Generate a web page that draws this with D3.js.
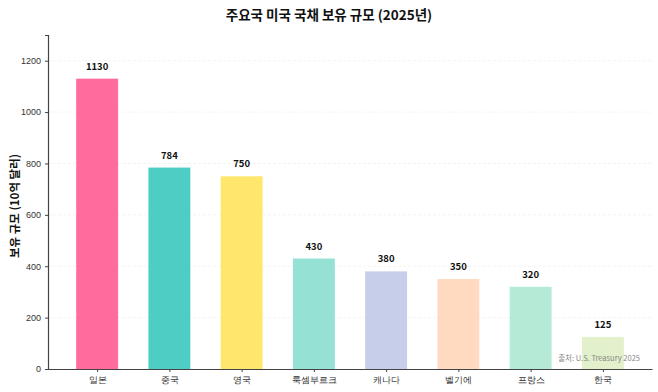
<!DOCTYPE html>
<html>
<head>
<meta charset="utf-8">
<script src="https://cdn.jsdelivr.net/npm/d3@7"></script>
<style>
  html, body { margin: 0; padding: 0; background: #fff; }
  svg { display: block; font-family: "Noto Sans CJK KR", "Noto Sans", sans-serif; }
</style>
</head>
<body>
<svg width="658" height="392"></svg>
<script>
var countries = ['일본', '중국', '영국', '룩셈부르크', '캐나다', '벨기에', '프랑스', '한국']
var holdings = [1130, 784, 750, 430, 380, 350, 320, 125]
var colors = ['#FF6B9D', '#4ECDC4', '#FFE66D', '#95E1D3', '#C7CEEA', '#FFDAC1', '#B5EAD7', '#E2F0CB']
var yTicks = [0, 200, 400, 600, 800, 1000, 1200]

;(function (d3) {
  var svg = d3.select('svg')

  var left = 48, right = 652, top = 35, bottom = 369

  var x = d3.scaleLinear()
    .domain([-0.68, countries.length - 1 + 0.68])
    .range([left, right])

  var y = d3.scaleLinear()
    .domain([0, 1300])
    .range([bottom, top])

  var bw = x(0.29) - x(-0.29)

  // grid
  svg.append('g')
    .selectAll('line')
    .data(yTicks.slice(1))
    .enter().append('line')
    .attr('x1', left).attr('x2', right)
    .attr('y1', d => y(d)).attr('y2', d => y(d))
    .style('stroke', '#f0f0f0')
    .style('stroke-dasharray', '3,2')
    .style('stroke-width', 0.8)

  // bars
  svg.append('g')
    .selectAll('rect')
    .data(holdings)
    .enter().append('rect')
    .attr('x', (d, i) => x(i) - bw / 2)
    .attr('width', bw)
    .attr('y', d => y(d))
    .attr('height', d => y(0) - y(d))
    .style('fill', (d, i) => colors[i])

  // value labels
  svg.append('g')
    .selectAll('text')
    .data(holdings)
    .enter().append('text')
    .attr('x', (d, i) => x(i))
    .attr('y', d => y(d) - 9)
    .style('text-anchor', 'middle')
    .style('font-size', '9.5px')
    .style('font-weight', 'bold')
    .style('fill', '#111')
    .text(d => d)

  // y axis
  var yAxis = svg.append('g')
    .attr('transform', `translate(${left},0)`)
    .call(d3.axisLeft(y).tickValues(yTicks).tickFormat(d3.format('d')).tickSize(3).tickPadding(4))
  yAxis.select('.domain').style('stroke', '#444').style('stroke-width', 1.2)
  yAxis.selectAll('.tick line').style('stroke', '#444')
  yAxis.selectAll('text').style('font-size', '9px').style('fill', '#333')

  // x axis
  var xAxis = svg.append('g')
    .attr('transform', `translate(0,${bottom})`)
    .call(d3.axisBottom(x).tickValues(d3.range(countries.length))
      .tickFormat(i => countries[i]).tickSize(3).tickPadding(5).tickSizeOuter(0))
  xAxis.select('.domain').style('stroke', '#444').style('stroke-width', 1.2)
  xAxis.selectAll('.tick line').style('stroke', '#444')
  xAxis.selectAll('text').style('font-size', '9px').style('fill', '#333')

  // title
  svg.append('text')
    .attr('x', 329).attr('y', 20)
    .style('text-anchor', 'middle')
    .style('font-size', '13.5px')
    .style('font-weight', 'bold')
    .style('fill', '#111')
    .text('주요국 미국 국채 보유 규모 (2025년)')

  // y label
  svg.append('text')
    .attr('transform', `translate(19,${(top + bottom) / 2 + 4}) rotate(-90)`)
    .style('text-anchor', 'middle')
    .style('font-size', '11.5px')
    .style('font-weight', 'bold')
    .style('fill', '#111')
    .text('보유 규모 (10억 달러)')

  // source
  svg.append('text')
    .attr('x', 640).attr('y', 361)
    .style('text-anchor', 'end')
    .style('font-size', '7.5px')
    .style('fill', '#888')
    .text('출처: U.S. Treasury 2025')
})(window.d3)
</script>
</body>
</html>
